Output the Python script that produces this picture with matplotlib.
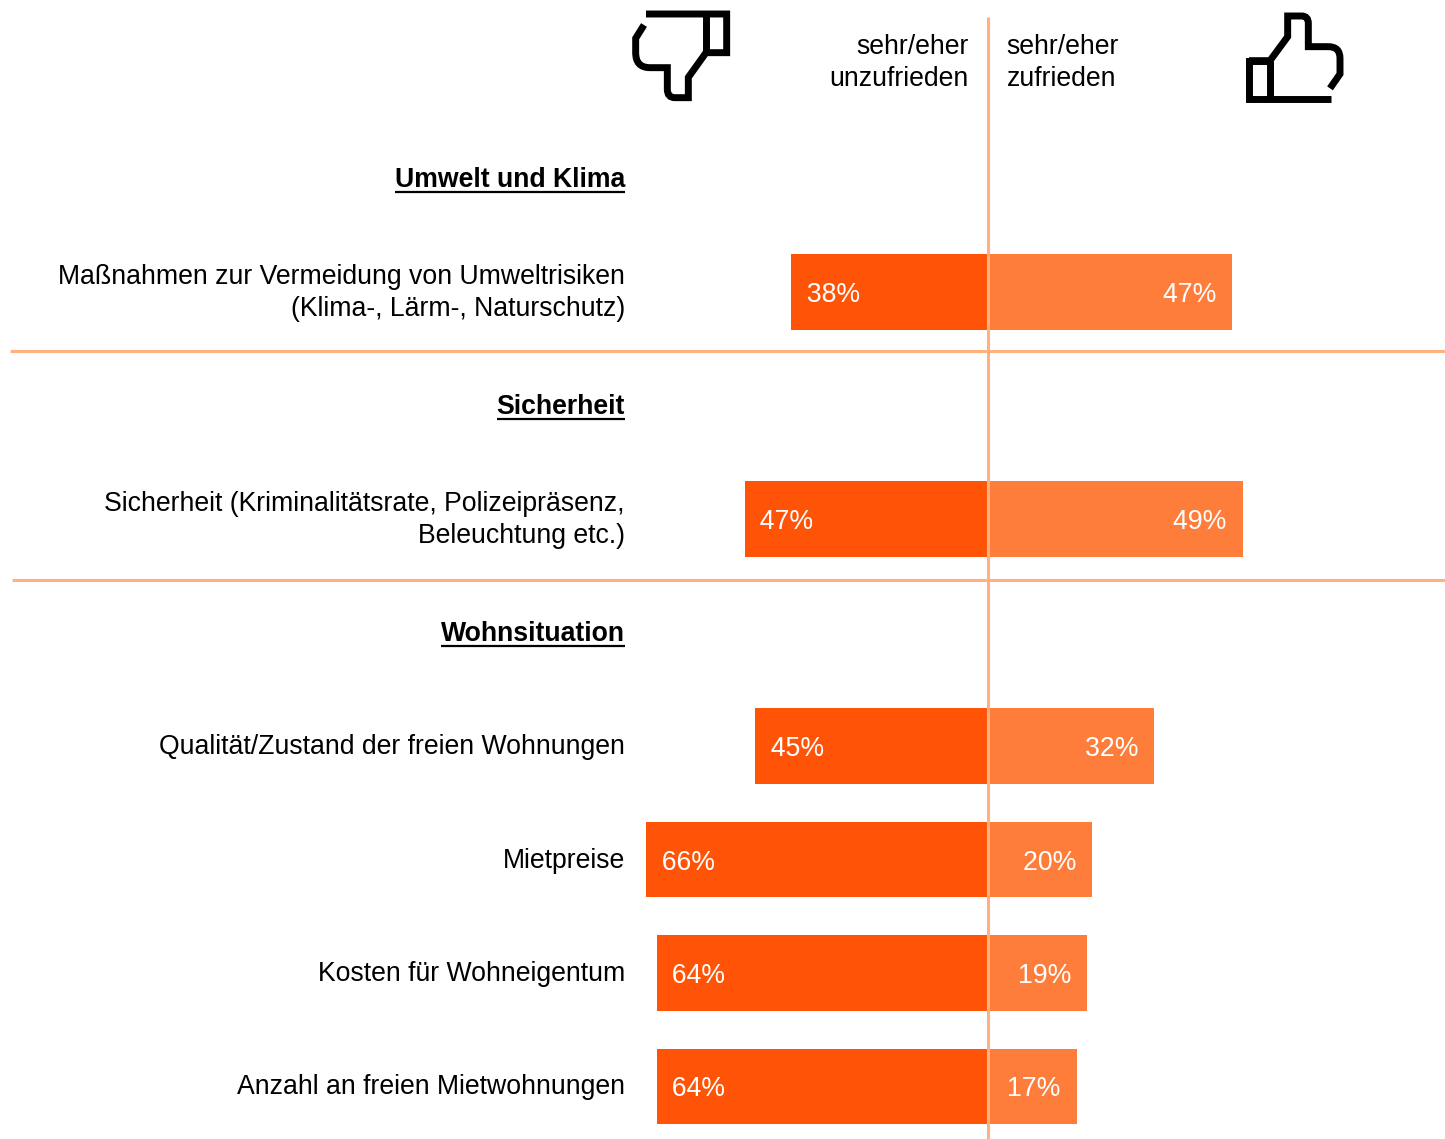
import matplotlib
matplotlib.use("Agg")
import matplotlib.pyplot as plt
from matplotlib.path import Path
from matplotlib.patches import PathPatch

plt.rcParams['font.family'] = ['Liberation Sans', 'DejaVu Sans']

W, H = 1445, 1139
categories = ["Maßnahmen zur Vermeidung von Umweltrisiken\n(Klima-, Lärm-, Naturschutz)",
              "Sicherheit (Kriminalitätsrate, Polizeipräsenz,\nBeleuchtung etc.)",
              "Qualität/Zustand der freien Wohnungen",
              "Mietpreise",
              "Kosten für Wohneigentum",
              "Anzahl an freien Mietwohnungen"]
unzufrieden = [38, 47, 45, 66, 64, 64]
zufrieden = [47, 49, 32, 20, 19, 17]
sections = ["Umwelt und Klima", "Sicherheit", "Wohnsituation"]
header_left = "sehr/eher\nunzufrieden"
header_right = "sehr/eher\nzufrieden"

section_y = [178, 405, 632]
bar_y = [292, 519, 746, 859.5, 973, 1086.5]
bar_h = 75.5
sep_lines = [(10, 351), (12, 580)]
X0 = 988.5
PX_PER_PCT = 5.185
FS = 19.2
DARK, LIGHT, RULE = '#FF5408', '#FF7D3B', '#FFB27F'

fig = plt.figure(figsize=(W / 100, H / 100), dpi=100, facecolor='white')
ax = fig.add_axes([0, 0, 1, 1])
ax.set_xlim(-X0 / PX_PER_PCT, (W - X0) / PX_PER_PCT)
ax.set_ylim(H, 0)
ax.axis('off')

# pixel overlay for text, rules and icons
px = fig.add_axes([0, 0, 1, 1], facecolor='none')
px.set_xlim(0, W)
px.set_ylim(H, 0)
px.axis('off')

ax.barh(bar_y, [-v for v in unzufrieden], height=bar_h, color=DARK, linewidth=0)
ax.barh(bar_y, zufrieden, height=bar_h, color=LIGHT, linewidth=0)

for y, a, b in zip(bar_y, unzufrieden, zufrieden):
    ax.text(-a + 0.1, y + 3, f"  {a}%", color='white', fontsize=FS, ha='left', va='center')
    ax.text(b - 0.25, y + 3, f"{b}%  ", color='white', fontsize=FS, ha='right', va='center')

px.plot([987.5, 987.5], [17, 1139], color=RULE, lw=2.2, solid_capstyle='butt')
for x0, y in sep_lines:
    px.plot([x0, W], [y, y], color=RULE, lw=2.2, solid_capstyle='butt')

for y, t in zip(bar_y, categories):
    px.text(625, y + 1, t, fontsize=FS, ha='right', va='center', linespacing=1.32, color='black')

for y, t in zip(section_y, sections):
    tx = px.text(625, y + 2, t, fontsize=FS, fontweight='bold', ha='right', va='center', color='black')
    fig.canvas.draw()
    bb = tx.get_window_extent()
    px.plot([bb.x0, bb.x1], [y + 13.5, y + 13.5], color='black', lw=1.6, solid_capstyle='butt')

px.text(968.5, 63, header_left, fontsize=FS, ha='right', va='center', linespacing=1.32)
px.text(1006.5, 63, header_right, fontsize=FS, ha='left', va='center', linespacing=1.32)


def icon(points, ox, codes=None):
    verts = [(ox + x / 3, y / 3) for x, y in points]
    codes = codes or [Path.MOVETO] + [Path.LINETO] * (len(verts) - 1)
    px.add_patch(PathPatch(Path(verts, codes), fill=False, ec='black', lw=5.0,
                           capstyle='butt', joinstyle='miter'))


L, C = Path.LINETO, Path.CURVE3
M = Path.MOVETO
down = [(78, 42), (320, 42), (320, 158), (258, 158), (205, 232), (205, 293), (165, 293),
        (142, 293), (142, 268), (142, 203), (90, 203), (47, 203), (47, 158), (47, 115), (72, 75)]
down_c = [M, L, L, L, L, L, L, C, C, L, L, C, C, L, L]
icon(down, 620, down_c)
icon([(258, 42), (258, 158)], 620)

up = [(42, 182), (105, 182), (158, 110), (158, 48), (200, 48), (220, 48), (220, 70),
      (220, 140), (280, 140), (315, 140), (315, 175), (315, 222), (285, 265)]
up_c = [M, L, L, L, L, C, C, L, L, C, C, L, L]
icon(up, 1235, up_c)
icon([(105, 182), (42, 182), (42, 298), (288, 298)], 1235)
icon([(105, 182), (105, 298)], 1235)

fig.savefig('out.png', dpi=100)
